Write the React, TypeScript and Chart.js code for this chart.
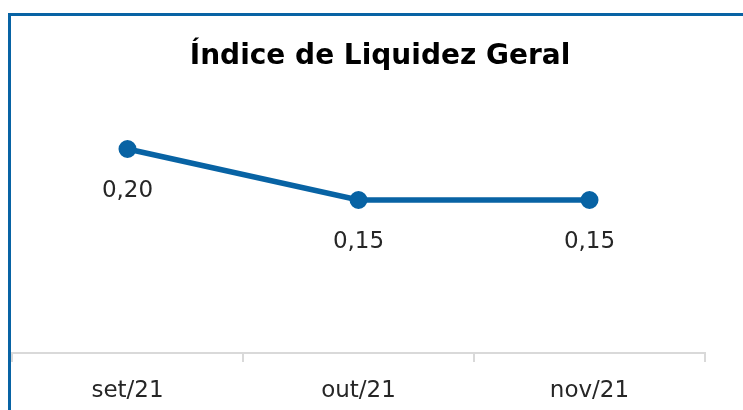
import React, { useEffect, useRef } from "react";
import { Chart, registerables } from "chart.js";

Chart.register(...registerables);

const TITLE = "Índice de Liquidez Geral";
const CATEGORIES = ["set/21", "out/21", "nov/21"];
const VALUES = [0.2, 0.15, 0.15];
const Y_MIN = 0;
const Y_MAX = 0.25;

const BLUE = "#0863A4";
const FONT = "'DejaVu Sans', sans-serif";

const labelPlugin = {
  id: "pointLabels",
  afterDatasetsDraw(chart: any) {
    const ctx = chart.ctx;
    const meta = chart.getDatasetMeta(0);
    const data = chart.data.datasets[0].data as number[];
    ctx.save();
    ctx.font = `23px ${FONT}`;
    ctx.fillStyle = "#262626";
    ctx.textAlign = "center";
    ctx.textBaseline = "middle";
    meta.data.forEach((pt: any, i: number) => {
      const txt = data[i].toFixed(2).replace(".", ",");
      ctx.fillText(txt, pt.x, pt.y + 42);
    });
    ctx.restore();
  },
};

const titlePlugin = {
  id: "centeredTitle",
  afterDraw(chart: any) {
    const ctx = chart.ctx;
    ctx.save();
    ctx.font = `bold 28px ${FONT}`;
    ctx.fillStyle = "#000000";
    ctx.textAlign = "center";
    ctx.textBaseline = "middle";
    ctx.fillText(TITLE, 380, 57);
    ctx.restore();
  },
};

export default function App() {
  const ref = useRef<HTMLCanvasElement>(null);
  useEffect(() => {
    document.body.style.margin = "0";
    const chart = new Chart(ref.current!, {
      type: "line",
      data: {
        labels: CATEGORIES,
        datasets: [
          {
            data: VALUES,
            borderColor: BLUE,
            backgroundColor: BLUE,
            borderWidth: 5.5,
            pointRadius: 8,
            pointBorderWidth: 2,
            pointBackgroundColor: BLUE,
            pointBorderColor: BLUE,
            tension: 0,
            clip: false as any,
          },
        ],
      },
      options: {
        responsive: false,
        animation: false,
        layout: { padding: { left: 12, right: 38, top: 98, bottom: 0 } },
        plugins: {
          legend: { display: false },
          tooltip: { enabled: false },
          title: { display: false },
        },
        scales: {
          x: {
            offset: true,
            grid: {
              display: true,
              offset: true,
              drawOnChartArea: false,
              drawTicks: true,
              tickLength: 9,
              color: "#d9d9d9",
              lineWidth: 2,
            },
            border: { display: true, color: "#d9d9d9", width: 2 },
            ticks: {
              color: "#262626",
              font: { family: FONT, size: 23 },
              padding: 15,
              maxRotation: 0,
            },
            afterFit: (scale: any) => {
              scale.height = 57;
            },
          },
          y: {
            display: false,
            min: Y_MIN,
            max: Y_MAX,
          },
        },
      },
      plugins: [labelPlugin, titlePlugin],
    });
    return () => chart.destroy();
  }, []);

  return (
    <div style={{ position: "relative", width: 743, height: 410, background: "#fff" }}>
      <canvas ref={ref} width={743} height={410} style={{ position: "absolute", left: 0, top: 0 }} />
      <div style={{ position: "absolute", left: 8, top: 13, width: 3, height: 397, background: BLUE }} />
      <div style={{ position: "absolute", left: 8, top: 13, width: 735, height: 3, background: BLUE }} />
    </div>
  );
}
